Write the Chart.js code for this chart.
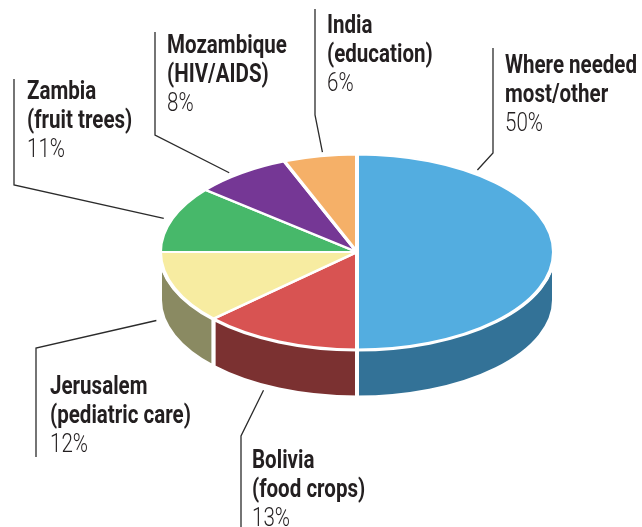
<!DOCTYPE html>
<html>
<head>
<meta charset="utf-8">
<script src="https://cdn.jsdelivr.net/npm/chart.js@4.4.1/dist/chart.umd.min.js"></script>
<style>
  html, body { margin: 0; padding: 0; background: #fff; }
  #wrap { width: 642px; height: 527px; position: relative; }
</style>
</head>
<body>
<div id="wrap"><canvas id="pie"></canvas></div>
<script>
// Donation split, clockwise from 12 o'clock
const names = [
  ['Where needed', 'most/other'],
  ['Bolivia', '(food crops)'],
  ['Jerusalem', '(pediatric care)'],
  ['Zambia', '(fruit trees)'],
  ['Mozambique', '(HIV/AIDS)'],
  ['India', '(education)']
];
const shares = [50, 13, 12, 11, 8, 6];
const topColors = ['#53ADE0', '#D85352', '#F7ECA1', '#47B86A', '#753795', '#F5B068'];
const sideColors = ['#337297', '#7B3131', '#8A8A62', '#2F7A47', '#4E2563', '#A8763F'];

// callout layout: text left, first baseline, leader start and elbow, where on the slice it touches
const callouts = [
  { tx: 505, ty: 73,  line: [[493, 48], [493, 153]],  frac: 0.20 },
  { tx: 252, ty: 468, line: [[241, 527], [241, 436]], frac: 0.58 },
  { tx: 50,  ty: 394, line: [[36, 457], [36, 348]],   frac: 0.73 },
  { tx: 27,  ty: 99,  line: [[14, 79], [14, 185]],    frac: 0.49 },
  { tx: 167, ty: 53,  line: [[155, 32], [155, 135]],  frac: 0.41 },
  { tx: 327, ty: 33,  line: [[315, 9], [315, 115]],   frac: 0.55 }
];

const TILT = 0.495;   // vertical squash of the top face
const DEPTH = 48;     // thickness of the pie
const LINE_H = 29;
const FONT = 'Roboto, "DejaVu Sans", sans-serif';
const REF_WIDTH = 132; // width of "Where needed" in the original condensed face

const pie3d = {
  id: 'pie3d',
  beforeDatasetsDraw(chart) {
    const ctx = chart.ctx;
    const arcs = chart.getDatasetMeta(0).data;
    const cx = arcs[0].x, cy = arcs[0].y, r = arcs[0].outerRadius;
    const ry = r * TILT;
    // side walls, only the front half shows
    arcs.forEach((arc, i) => {
      const a0 = Math.max(arc.startAngle, 0);
      const a1 = Math.min(arc.endAngle, Math.PI);
      if (a1 <= a0) return;
      ctx.beginPath();
      ctx.ellipse(cx, cy, r, ry, 0, a0, a1);
      ctx.ellipse(cx, cy + DEPTH, r, ry, 0, a1, a0, true);
      ctx.closePath();
      ctx.fillStyle = sideColors[i];
      ctx.fill();
      ctx.strokeStyle = '#fff';
      ctx.lineWidth = 4;
      ctx.stroke();
    });
    // squash the top face
    ctx.save();
    ctx.translate(cx, cy);
    ctx.scale(1, TILT);
    ctx.translate(-cx, -cy);
  },
  afterDatasetsDraw(chart) {
    chart.ctx.restore();
  },
  afterDraw(chart) {
    const ctx = chart.ctx;
    const arcs = chart.getDatasetMeta(0).data;
    const cx = arcs[0].x, cy = arcs[0].y, r = arcs[0].outerRadius;
    const ry = r * TILT;
    ctx.save();
    ctx.font = 'bold 26px ' + FONT;
    const sx = REF_WIDTH / ctx.measureText(names[0][0]).width;
    arcs.forEach((arc, i) => {
      const c = callouts[i];
      const a = arc.startAngle + (arc.endAngle - arc.startAngle) * c.frac;
      const s = Math.sin(a);
      const ax = cx + r * 1.04 * Math.cos(a);
      const ay = cy + ry * 1.04 * s + (s > 0 ? DEPTH : 0);
      ctx.beginPath();
      ctx.moveTo(c.line[0][0], c.line[0][1]);
      ctx.lineTo(c.line[1][0], c.line[1][1]);
      ctx.lineTo(ax, ay);
      ctx.strokeStyle = '#2b2b2b';
      ctx.lineWidth = 1.3;
      ctx.stroke();

      ctx.save();
      ctx.translate(c.tx, c.ty);
      ctx.scale(sx, 1);
      ctx.textAlign = 'left';
      ctx.textBaseline = 'alphabetic';
      ctx.fillStyle = '#231f20';
      ctx.font = 'bold 26px ' + FONT;
      names[i].forEach((t, k) => ctx.fillText(t, 0, k * LINE_H));
      ctx.fillStyle = '#231f20';
      ctx.font = '300 26px ' + FONT;
      ctx.fillText(shares[i] + '%', 0, names[i].length * LINE_H);
      ctx.restore();
    });
    ctx.restore();
  }
};

new Chart(document.getElementById('pie'), {
  type: 'pie',
  data: {
    labels: names.map(n => n.join(' ')),
    datasets: [{
      data: shares,
      backgroundColor: topColors,
      borderColor: '#fff',
      borderWidth: 4,
      hoverOffset: 0
    }]
  },
  options: {
    responsive: true,
    maintainAspectRatio: false,
    animation: false,
    events: [],
    layout: { padding: { left: 158, right: 86, top: 53, bottom: 76 } },
    plugins: {
      legend: { display: false },
      tooltip: { enabled: false }
    }
  },
  plugins: [pie3d]
});
</script>
</body>
</html>
